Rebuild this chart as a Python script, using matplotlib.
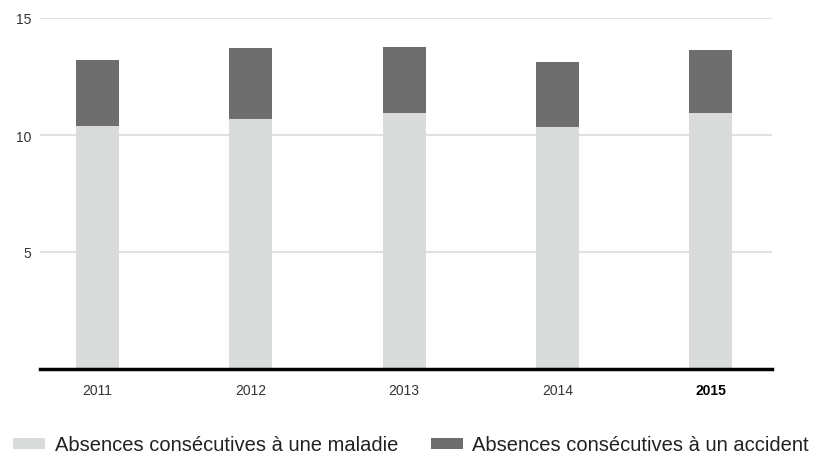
import matplotlib.pyplot as plt

years = ['2011', '2012', '2013', '2014', '2015']
maladie = [10.40, 10.70, 10.95, 10.35, 10.95]
total = [13.22, 13.73, 13.77, 13.13, 13.65]
accident = [t - m for t, m in zip(total, maladie)]

plt.rcParams['font.family'] = ['Liberation Sans', 'DejaVu Sans']

fig = plt.figure(figsize=(8.16, 4.6), dpi=100)
ax = fig.add_axes([40/816, 1 - 370/460, 732/816, 351/460])

x = range(len(years))
b1 = ax.bar(x, maladie, width=0.28, color='#d9dbda', zorder=2)
b2 = ax.bar(x, accident, bottom=maladie, width=0.28, color='#6e6e6e', zorder=2)

ax.set_xlim(-0.375, 4.4)
ax.set_ylim(0, 15)
ax.set_yticks([5, 10, 15])
ax.grid(axis='y', color='#e0e0e0', linewidth=1.5, zorder=0)
for s in ['top', 'right', 'left']:
    ax.spines[s].set_visible(False)
ax.spines['bottom'].set_linewidth(2.5)
ax.spines['bottom'].set_color('black')
ax.spines['bottom'].set_zorder(3)
ax.tick_params(axis='both', length=0, labelsize=10, colors='#333333')
ax.tick_params(axis='y', pad=6)
ax.tick_params(axis='x', pad=10)
ax.set_xticks(list(x))
ax.set_xticklabels(years)
ax.get_xticklabels()[-1].set_fontweight('bold')
ax.get_xticklabels()[-1].set_color('black')

fig.legend([b1, b2], ['Absences consécutives à une maladie', 'Absences consécutives à un accident'],
           loc='center left', bbox_to_anchor=(-0.006, 1 - 446/460), ncol=2, frameon=False,
           fontsize=14.5, handlelength=1.6, handleheight=0.5, handletextpad=0.45,
           columnspacing=1.64, labelcolor='#222222')

fig.savefig('out.png', dpi=100)
